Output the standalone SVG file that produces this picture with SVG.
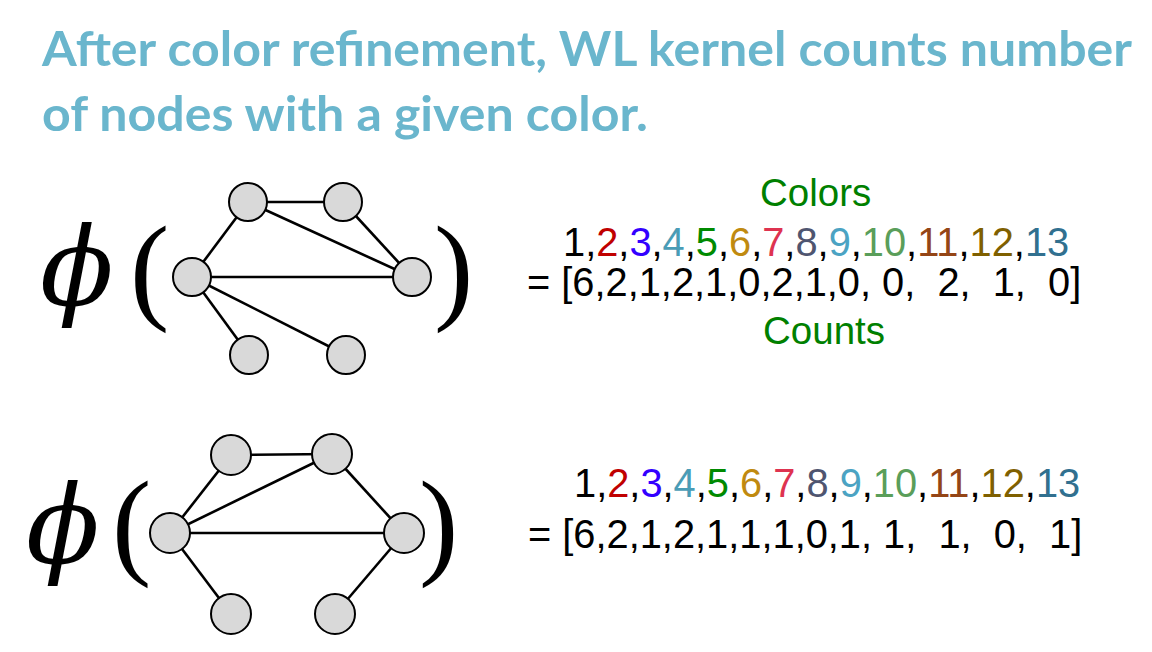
<svg xmlns="http://www.w3.org/2000/svg" width="1152" height="652" viewBox="0 0 1152 652">
<style>
.title{font-family:Lato,"Open Sans",sans-serif;font-weight:bold;font-size:48px;fill:#6AB6CD}
.num{font-family:"Liberation Sans",Arial,sans-serif;font-size:39.8px;fill:#000;white-space:pre}
.lbl{font-family:"Liberation Sans",Arial,sans-serif;font-size:38.5px;fill:#008000}
.phi{font-family:"DejaVu Serif",serif;font-style:italic;font-size:108px;fill:#000}
.par{font-family:"Liberation Serif",serif;font-size:118px;fill:#000}
.node{fill:#D9D9D9;stroke:#000;stroke-width:2}
.edge{stroke:#000;stroke-width:2.6;fill:none}
.c2{fill:#C00000}.c3{fill:#3300FF}.c4{fill:#4A9CB6}.c5{fill:#008A00}.c6{fill:#C08A10}.c7{fill:#DE3350}
.c8{fill:#4F5570}.c9{fill:#4BA3C3}.c10{fill:#5A9E5A}.c11{fill:#944516}.c12{fill:#7F6000}.c13{fill:#31708F}
</style>
<g id="title">
<text class="title" x="42" y="66" textLength="1090" lengthAdjust="spacingAndGlyphs">After color refinement, WL kernel counts number</text>
<text class="title" x="42" y="131" textLength="606" lengthAdjust="spacingAndGlyphs">of nodes with a given color.</text>
</g>
<g id="graph1-frame">
<text class="phi" x="40" y="305">ϕ</text>
<text class="par" x="130" y="308">(</text>
<text class="par" x="434" y="308">)</text>
</g>
<g id="graph2-frame">
<text class="phi" x="26" y="563">ϕ</text>
<text class="par" x="112" y="563">(</text>
<text class="par" x="419" y="563">)</text>
</g>
<g id="connectors">
<line class="edge" x1="248" y1="202" x2="343" y2="202"/>
<line class="edge" x1="248" y1="202" x2="192" y2="277"/>
<line class="edge" x1="248" y1="202" x2="412" y2="277"/>
<line class="edge" x1="343" y1="202" x2="412" y2="277"/>
<line class="edge" x1="192" y1="277" x2="412" y2="277"/>
<line class="edge" x1="192" y1="277" x2="249" y2="355"/>
<line class="edge" x1="192" y1="277" x2="346" y2="355"/>
<line class="edge" x1="231" y1="455" x2="332" y2="454"/>
<line class="edge" x1="231" y1="455" x2="170" y2="533"/>
<line class="edge" x1="170" y1="533" x2="332" y2="454"/>
<line class="edge" x1="332" y1="454" x2="404" y2="533"/>
<line class="edge" x1="170" y1="533" x2="404" y2="533"/>
<line class="edge" x1="170" y1="533" x2="231" y2="614"/>
<line class="edge" x1="404" y1="533" x2="335" y2="614"/>
</g>
<g id="g1-n1"><circle class="node" cx="248" cy="202" r="19"/></g>
<g id="g1-n2"><circle class="node" cx="343" cy="202" r="19"/></g>
<g id="g1-n3"><circle class="node" cx="192" cy="277" r="19"/></g>
<g id="g1-n4"><circle class="node" cx="412" cy="277" r="19"/></g>
<g id="g1-n5"><circle class="node" cx="249" cy="355" r="19"/></g>
<g id="g1-n6"><circle class="node" cx="346" cy="355" r="19"/></g>
<g id="g2-n1"><circle class="node" cx="231" cy="455" r="20"/></g>
<g id="g2-n2"><circle class="node" cx="332" cy="454" r="20"/></g>
<g id="g2-n3"><circle class="node" cx="170" cy="533" r="20"/></g>
<g id="g2-n4"><circle class="node" cx="404" cy="533" r="20"/></g>
<g id="g2-n5"><circle class="node" cx="231" cy="614" r="20"/></g>
<g id="g2-n6"><circle class="node" cx="335" cy="614" r="20"/></g>
<g id="vector1">
<text class="lbl" x="760" y="206">Colors</text>
<text class="num" x="563" y="256">1,<tspan class="c2">2</tspan>,<tspan class="c3">3</tspan>,<tspan class="c4">4</tspan>,<tspan class="c5">5</tspan>,<tspan class="c6">6</tspan>,<tspan class="c7">7</tspan>,<tspan class="c8">8</tspan>,<tspan class="c9">9</tspan>,<tspan class="c10">10</tspan>,<tspan class="c11">11</tspan>,<tspan class="c12">12</tspan>,<tspan class="c13">13</tspan></text>
<text class="num" x="527" y="296">= [6,2,1,2,1,0,2,1,0, 0,  2,  1,  0]</text>
<text class="lbl" x="763" y="344">Counts</text>
</g>
<g id="vector2">
<text class="num" x="574" y="497">1,<tspan class="c2">2</tspan>,<tspan class="c3">3</tspan>,<tspan class="c4">4</tspan>,<tspan class="c5">5</tspan>,<tspan class="c6">6</tspan>,<tspan class="c7">7</tspan>,<tspan class="c8">8</tspan>,<tspan class="c9">9</tspan>,<tspan class="c10">10</tspan>,<tspan class="c11">11</tspan>,<tspan class="c12">12</tspan>,<tspan class="c13">13</tspan></text>
<text class="num" x="528" y="548">= [6,2,1,2,1,1,1,0,1, 1,  1,  0,  1]</text>
</g>
</svg>
